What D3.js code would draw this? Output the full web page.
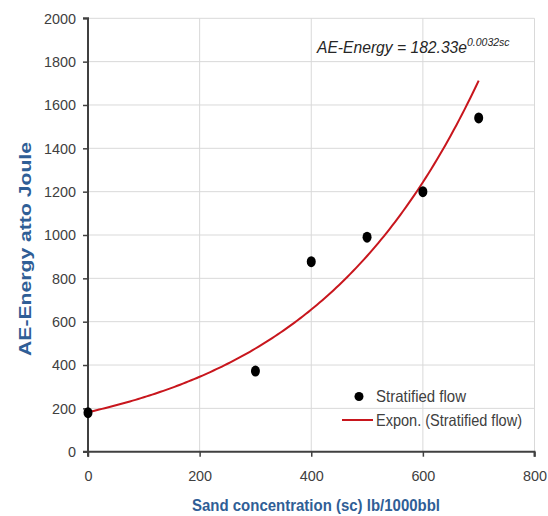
<!DOCTYPE html>
<html><head><meta charset="utf-8">
<script src="https://cdn.jsdelivr.net/npm/d3@7"></script>
<style>
html,body{margin:0;padding:0;background:#fff;}
svg{display:block;}
</style></head>
<body>
<svg id="chart" width="548" height="516"></svg>
<script>
// Data
const sandConc = [0, 300, 400, 500, 600, 700];
const aeEnergy = [180, 372, 877, 990, 1200, 1540];
const fitA = 182.33, fitB = 0.0032;
const xTicks = [0, 200, 400, 600, 800];
const yTicks = [0, 200, 400, 600, 800, 1000, 1200, 1400, 1600, 1800, 2000];
const legendLabels = ["Stratified flow", "Expon. (Stratified flow)"];

const svg = d3.select("#chart");
const x = d3.scaleLinear().domain([0, 800]).range([88, 534.5]);
const y = d3.scaleLinear().domain([0, 2000]).range([451.7, 18.3]);

const sans = "'Liberation Sans',Arial,sans-serif";

// gridlines
svg.append("g").selectAll("line.h").data(yTicks.slice(1)).join("line")
  .attr("x1", x(0)).attr("x2", x(800)).attr("y1", d => y(d)).attr("y2", d => y(d))
  .attr("stroke", "#d9d9d9").attr("stroke-width", 1);
svg.append("g").selectAll("line.v").data(xTicks.slice(1)).join("line")
  .attr("y1", y(0)).attr("y2", y(2000)).attr("x1", d => x(d)).attr("x2", d => x(d))
  .attr("stroke", "#d9d9d9").attr("stroke-width", 1);

// axes
const yAxis = svg.append("g").attr("transform", `translate(${x(0)},0)`)
  .call(d3.axisLeft(y).tickValues(yTicks).tickSize(5).tickPadding(7).tickFormat(d3.format("d")));
const xAxis = svg.append("g").attr("transform", `translate(0,${y(0)})`)
  .call(d3.axisBottom(x).tickValues(xTicks).tickSize(5).tickPadding(14).tickFormat(d3.format("d")));
[yAxis, xAxis].forEach(g => {
  g.select(".domain").attr("stroke", "#404040").attr("stroke-width", 2);
  g.selectAll(".tick line").attr("stroke", "#404040").attr("stroke-width", 1.5);
  g.selectAll(".tick text").attr("fill", "#404040").style("font-family", sans).style("font-size", "15px")
    .attr("textLength", d => String(d).length * 8).attr("lengthAdjust", "spacingAndGlyphs");
});
xAxis.select(".domain").attr("d", `M${x(0)},5V0H${x(800)}V5`);
yAxis.select(".domain").attr("d", `M-5,${y(2000)}H0V${y(0)}H-5`);

// trend line
const curveX = d3.range(0, 700.1, 5);
svg.append("path")
  .datum(curveX)
  .attr("fill", "none").attr("stroke", "#c8161d").attr("stroke-width", 2)
  .attr("d", d3.line().x(d => x(d)).y(d => y(fitA * Math.exp(fitB * d))));

// points
svg.append("g").selectAll("ellipse").data(sandConc).join("ellipse")
  .attr("cx", (d) => x(d)).attr("cy", (d, i) => y(aeEnergy[i]))
  .attr("rx", 4.5).attr("ry", 5.5).attr("fill", "#000");

// equation
const eq = svg.append("text").attr("x", 317).attr("y", 53)
  .style("font-family", sans).style("font-style", "italic")
  .style("font-size", "16px").attr("fill", "#262626");
eq.append("tspan").text("AE-Energy = 182.33e").attr("textLength", 150).attr("lengthAdjust", "spacingAndGlyphs");
eq.append("tspan").attr("dy", -7).style("font-size", "10.5px").text("0.0032sc");

// legend
const lg = svg.append("g");
lg.append("circle").attr("cx", 359).attr("cy", 396.5).attr("r", 4.5).attr("fill", "#000");
lg.append("line").attr("x1", 342).attr("x2", 373).attr("y1", 420).attr("y2", 420)
  .attr("stroke", "#c8161d").attr("stroke-width", 2);
const legendLens = [90, 146];
lg.selectAll("text").data(legendLabels).join("text")
  .attr("x", 376).attr("y", (d, i) => 402 + i * 24)
  .style("font-family", sans).style("font-size", "16.5px").attr("fill", "#404040")
  .attr("textLength", (d, i) => legendLens[i]).attr("lengthAdjust", "spacingAndGlyphs")
  .text(d => d);

// axis titles
svg.append("text").attr("x", 192).attr("y", 511)
  .style("font-family", sans).style("font-weight", "bold").style("font-size", "17px")
  .attr("textLength", 248).attr("lengthAdjust", "spacingAndGlyphs")
  .attr("fill", "#2f5e96").text("Sand concentration (sc) lb/1000bbl");
svg.append("text").attr("transform", "translate(31,356) rotate(-90)")
  .style("font-family", sans).style("font-weight", "bold").style("font-size", "16px")
  .attr("textLength", 214).attr("lengthAdjust", "spacingAndGlyphs")
  .attr("fill", "#2f5e96").text("AE-Energy atto Joule");
</script>
</body></html>
